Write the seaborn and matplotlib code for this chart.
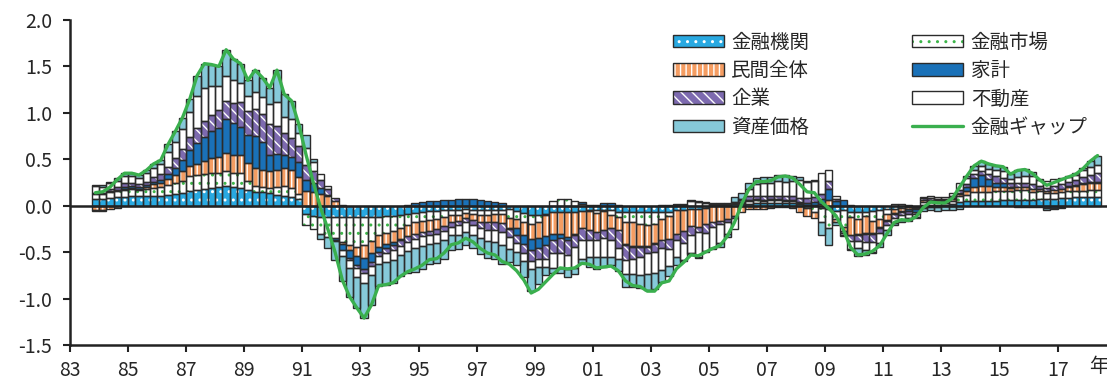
import numpy as np
import matplotlib
matplotlib.use('Agg')
import matplotlib.pyplot as plt
import seaborn as sns
from matplotlib.patches import Patch
from matplotlib.lines import Line2D
from matplotlib.legend_handler import HandlerTuple

# quarterly, 1983Q4 - 2018Q2
quarters = [f'{y}Q{q}' for y in range(1983, 2019) for q in range(1, 5)][3:142]

fin_inst = [.07, .07, .08, .09, .09, .10, .10, .10, .11, .11,
            .12, .13, .14, .16, .17, .18, .19, .20, .21, .20,
            .19, .17, .15, .15, .14, .12, .10, .09, .07, -.09,
            -.11, -.12, -.12, -.12, -.12, -.12, -.12, -.12, -.12, -.12,
            -.11, -.11, -.10, -.09, -.08, -.07, -.06, -.06, -.05, -.05,
            -.05, -.04, -.05, -.05, -.05, -.05, -.05, -.04, -.06, -.08,
            -.10, -.10, -.09, -.07, -.07, -.07, -.07, -.06, -.05, -.05,
            -.05, -.05, -.07, -.07, -.07, -.07, -.07, -.07, -.07, -.07,
            -.05, -.05, -.04, -.03, -.02, .01, .01, .01, .02, .02,
            .02, .03, .03, .03, .03, .03, .03, .02, .01, .01,
            -.02, -.04, -.06, -.05, -.07, -.07, -.07, -.06, -.05, -.04,
            -.03, -.02, -.01, -.01, .01, .01, .01, .01, .02, .04,
            .05, .05, .05, .05, .05, .06, .06, .06, .06, .06,
            .07, .07, .07, .08, .08, .09, .09, .09, .09]
fin_mkt = [.06, .06, .07, .07, .08, .08, .07, .08, .08, .09,
           .10, .11, .13, .16, .16, .16, .16, .15, .16, .15,
           .16, .10, .06, .05, .05, .08, .11, .10, .06, -.12,
           -.14, -.18, -.22, -.23, -.27, -.30, -.32, -.30, -.26, -.20,
           -.18, -.16, -.14, -.12, -.10, -.09, -.09, -.08, -.07, -.05,
           -.05, -.04, -.04, -.05, -.05, -.04, -.04, -.09, -.08, -.10,
           -.10, -.08, -.01, .05, .07, .07, .05, .02, -.01, -.03,
           -.01, -.05, -.05, -.11, -.11, -.13, -.14, -.13, -.07, -.04,
           .01, .01, .05, .04, .03, .01, .01, .01, .01, .01,
           .03, .03, .02, .03, .03, .02, .02, .01, -.02, -.07,
           -.16, -.20, -.08, -.18, -.05, -.07, -.04, -.10, -.09, -.05,
           .02, .02, .01, -.01, .03, .03, .03, .02, .03, .06,
           .07, .10, .10, .10, .11, .10, .10, .11, .11, .09,
           .09, .07, .07, .07, .08, .07, .07, .08, .08]
private = [-.05, -.05, -.04, -.02, .01, .01, .01, .02, .04, .05,
           .07, .09, .10, .11, .12, .14, .16, .18, .20, .20,
           .20, .19, .20, .19, .18, .19, .20, .19, .18, .16,
           .15, .13, .10, .05, -.02, -.06, -.10, -.14, -.13, -.12,
           -.12, -.12, -.12, -.12, -.12, -.12, -.12, -.11, -.10, -.08,
           -.06, -.05, -.06, -.07, -.08, -.09, -.10, -.11, -.10, -.14,
           -.16, -.17, -.23, -.23, -.23, -.27, -.23, -.18, -.20, -.20,
           -.20, -.14, -.14, -.23, -.25, -.23, -.22, -.20, -.23, -.25,
           -.25, -.22, -.18, -.20, -.18, -.18, -.16, -.14, -.11, -.07,
           -.04, -.03, -.04, -.02, -.01, -.01, -.02, -.07, -.09, -.06,
           .02, .06, -.04, -.04, -.20, -.16, -.18, -.13, -.09, -.06,
           -.05, -.04, -.03, -.02, .02, .02, .02, .02, .02, .03,
           .04, .05, .06, .06, .04, .04, .03, .03, .03, .03,
           .02, .02, .03, .03, .04, .05, .07, .08, .08]
household = [-.01, -.01, .01, .01, .02, .02, .02, .02, .03, .03,
             .05, .08, .12, .17, .23, .26, .29, .31, .36, .34,
             .30, .30, .34, .30, .18, .17, .14, .15, .16, .12,
             .10, .06, .02, -.02, -.07, -.08, -.10, -.12, -.10, -.06,
             -.05, -.03, -.01, .01, .03, .04, .05, .05, .06, .06,
             .07, .07, .07, .06, .05, .04, .03, -.01, -.07, -.09,
             -.12, -.11, -.09, -.07, -.05, -.03, -.01, .02, .01, .01,
             .03, .03, .01, -.01, -.01, -.01, -.01, -.01, .01, .01,
             .01, .01, .01, .01, .01, .01, .01, .01, .01, .01,
             .01, .01, .01, .01, .01, .01, .01, .01, .02, .03,
             .05, .12, .05, .06, .01, -.01, -.01, -.01, -.01, -.01,
             -.01, -.01, -.02, -.03, -.02, -.01, -.01, .01, .01, .01,
             .04, .10, .12, .08, .05, .04, .01, -.01, -.01, -.01,
             -.01, -.02, -.02, -.01, .01, .01, .01, .01, .01]
corporate = [.01, .01, .02, .03, .04, .04, .03, .04, .05, .06,
             .08, .10, .12, .14, .16, .17, .18, .19, .20, .22,
             .27, .26, .29, .30, .33, .30, .23, .20, .17, .16,
             .12, .09, .06, .03, .01, -.02, -.03, -.04, -.04, -.04,
             -.05, -.06, -.06, -.06, -.06, -.05, -.05, -.05, -.05, -.05,
             -.05, -.05, -.06, -.07, -.08, -.08, -.09, -.09, -.09, -.10,
             -.11, -.11, -.15, -.14, -.16, -.16, -.13, -.13, -.11, -.09,
             -.09, -.13, -.20, -.16, -.13, -.11, -.07, -.09, -.09, -.11,
             -.07, -.13, -.09, -.05, -.09, -.05, -.04, -.03, -.02, .02,
             .04, .04, .05, .03, .03, .04, .04, .04, .05, .05,
             .06, .09, .02, -.02, -.06, -.07, -.09, -.09, -.05, -.05,
             -.04, -.03, -.03, -.02, .02, .02, .01, .01, .02, .03,
             .03, .04, .04, .05, .07, .06, .04, .04, .04, .05,
             .03, .03, .04, .05, .05, .06, .07, .07, .09]
real_estate = [.07, .06, .06, .07, .08, .07, .07, .09, .10, .11,
               .16, .18, .22, .27, .34, .36, .31, .26, .27, .24,
               .20, .16, .18, .18, .22, .26, .18, .20, .14, .18,
               .10, .06, .03, -.01, -.06, -.09, -.10, -.11, -.10, -.09,
               -.10, -.10, -.10, -.10, -.10, -.10, -.09, -.10, -.10, -.09,
               -.10, -.10, -.11, -.11, -.12, -.13, -.14, -.13, -.10, -.08,
               -.09, -.09, -.09, -.16, -.16, -.15, -.23, -.20, -.18, -.18,
               -.20, -.18, -.11, -.16, -.16, -.20, -.22, -.22, -.23, -.18,
               -.18, -.18, -.20, -.27, -.20, -.22, -.20, -.13, -.12, .01,
               .08, .12, .13, .15, .17, .16, .17, .20, .18, .18,
               .22, .12, .03, -.03, -.09, -.07, -.09, -.11, -.11, -.05,
               -.06, -.05, -.04, -.03, .01, .02, .02, .02, .04, .07,
               .07, .05, .06, .06, .06, .07, .05, .07, .08, .09,
               .07, .08, .08, .07, .05, .05, .07, .09, .09]
asset = [.01, .02, .02, .03, .03, .03, .03, .03, .04, .04,
         .08, .11, .12, .14, .22, .26, .23, .21, .28, .23,
         .21, .17, .24, .21, .17, .34, .24, .20, .10, .14,
         .03, -.06, -.12, -.20, -.27, -.31, -.33, -.38, -.32, -.23,
         -.24, -.25, -.23, -.23, -.25, -.25, -.22, -.22, -.20, -.16,
         -.16, -.14, -.14, -.17, -.18, -.18, -.21, -.14, -.14, -.18,
         -.24, -.18, -.09, -.05, -.05, -.09, -.07, -.05, -.11, -.13,
         -.11, -.09, -.13, -.13, -.14, -.14, -.18, -.18, -.13, -.11,
         -.09, -.01, -.01, -.01, -.01, -.02, -.04, -.04, .05, .07,
         .06, .07, .07, .06, .06, .07, .05, .03, .01, .01,
         -.13, -.18, -.03, -.01, -.01, -.09, -.05, -.01, -.04, -.05,
         -.02, -.03, -.03, -.01, -.04, -.04, -.05, -.05, -.05, -.04,
         .02, .04, .05, .05, .05, .05, .05, .08, .08, .04,
         .01, -.03, -.02, -.01, .01, .02, .03, .06, .10]
gap = [.14, .15, .20, .28, .35, .35, .33, .38, .45, .49,
       .66, .80, .95, 1.15, 1.40, 1.53, 1.52, 1.50, 1.68, 1.58,
       1.53, 1.35, 1.46, 1.38, 1.27, 1.46, 1.20, 1.13, .88, .55,
       .25, -.02, -.25, -.50, -.80, -.98, -1.10, -1.21, -1.07, -.86,
       -.85, -.83, -.76, -.71, -.68, -.64, -.58, -.57, -.51, -.42,
       -.40, -.35, -.39, -.46, -.51, -.53, -.60, -.63, -.70, -.80,
       -.94, -.90, -.82, -.74, -.67, -.68, -.67, -.62, -.63, -.67,
       -.66, -.65, -.70, -.81, -.86, -.87, -.92, -.92, -.83, -.81,
       -.68, -.61, -.53, -.54, -.50, -.46, -.43, -.33, -.18, .02,
       .18, .26, .26, .27, .31, .32, .30, .23, .15, .14,
       .04, -.03, -.11, -.26, -.45, -.53, -.52, -.49, -.43, -.30,
       -.18, -.15, -.16, -.12, -.02, .04, .03, .03, .08, .20,
       .32, .43, .48, .45, .43, .42, .34, .38, .39, .35,
       .28, .22, .25, .28, .31, .34, .40, .48, .54]

year_labels = ['83', '85', '87', '89', '91', '93', '95', '97', '99',
               '01', '03', '05', '07', '09', '11', '13', '15', '17']
y_labels = ['-1.5', '-1.0', '-0.5', '0.0', '0.5', '1.0', '1.5', '2.0']

# name, values, face colour, hatch, hatch colour
comps = [
    ('金融機関', fin_inst, '#29A9E1', '..', 'white'),
    ('金融市場', fin_mkt, 'white', '..', '#3DB54A'),
    ('民間全体', private, '#F59D62', '|||', 'white'),
    ('家計', household, '#1A71B8', None, None),
    ('企業', corporate, '#7D6AAF', '\\\\\\', 'white'),
    ('不動産', real_estate, 'white', None, None),
    ('資産価格', asset, '#86C9D9', None, None),
]
edge = '#2b2b2b'
green = '#3AAF4E'

sns.set_style('ticks')
plt.rcParams['font.family'] = ['Noto Sans CJK JP', 'DejaVu Sans']
plt.rcParams['hatch.linewidth'] = 1.0

fig = plt.figure(figsize=(11.07, 3.8), dpi=100)
ax = fig.add_axes([70 / 1107, 35 / 380, 1 - 70 / 1107, 325 / 380])

n = len(quarters)
pos = np.zeros(n)
neg = np.zeros(n)
for name, vals, face, hatch, hc in comps:
    v = np.array(vals)
    bottom = np.where(v >= 0, pos, neg)
    sns.barplot(x=quarters, y=v, order=quarters, bottom=bottom, color=face,
                saturation=1, hatch=hatch, edgecolor=hc or face, linewidth=0,
                width=1.0, errorbar=None, ax=ax, zorder=2)
    sns.barplot(x=quarters, y=v, order=quarters, bottom=bottom, fill=False,
                color=edge, linewidth=1.0, width=1.0, errorbar=None, ax=ax,
                zorder=3)
    pos = pos + np.where(v >= 0, v, 0)
    neg = neg + np.where(v < 0, v, 0)

ax.axhline(0, color='#222222', lw=1.8, zorder=4)
sns.lineplot(x=np.arange(n), y=gap, color=green, linewidth=2.4, ax=ax, zorder=5)

ax.set_xlim(-3.5, 139.3)
ax.set_ylim(-1.5, 2.0)
ax.set_xticks([-3.5 + 8 * k for k in range(len(year_labels))])
ax.set_xticklabels(year_labels)
ax.set_yticks(np.arange(-1.5, 2.01, 0.5))
ax.set_yticklabels(y_labels)
ax.set_xlabel('')
ax.set_ylabel('')
ax.tick_params(axis='both', direction='out', length=5, width=1.5,
               labelsize=14, color='#222222')
ax.tick_params(axis='x', pad=6)
ax.tick_params(axis='y', pad=8)
for s in ['top', 'right']:
    ax.spines[s].set_visible(False)
for s in ['left', 'bottom']:
    ax.spines[s].set_linewidth(1.8)
    ax.spines[s].set_color('#222222')

ax.annotate('年', xy=(138.2, 0), xycoords=('data', 'axes fraction'),
            xytext=(0, -8), textcoords='offset points', ha='center', va='top',
            fontsize=14)

handles = {}
for name, vals, face, hatch, hc in comps:
    handles[name] = (Patch(facecolor=face, hatch=hatch, edgecolor=hc or face, linewidth=0),
                     Patch(facecolor='none', edgecolor=edge, linewidth=1.0))
handles['金融ギャップ'] = Line2D([], [], color=green, linewidth=2.4)
order = ['金融機関', '民間全体', '企業', '資産価格', '金融市場', '家計', '不動産', '金融ギャップ']
ax.legend([handles[k] for k in order], order,
          handler_map={tuple: HandlerTuple(ndivide=1, pad=0)},
          ncol=2, frameon=False, fontsize=14, handlelength=2.6, handleheight=0.6,
          handletextpad=0.4, columnspacing=5.3, labelspacing=0.37,
          loc='upper left', bbox_to_anchor=(673 / 1107, 1 - 32 / 380),
          bbox_transform=fig.transFigure, borderpad=0, borderaxespad=0)

fig.savefig('out.png', dpi=100)
